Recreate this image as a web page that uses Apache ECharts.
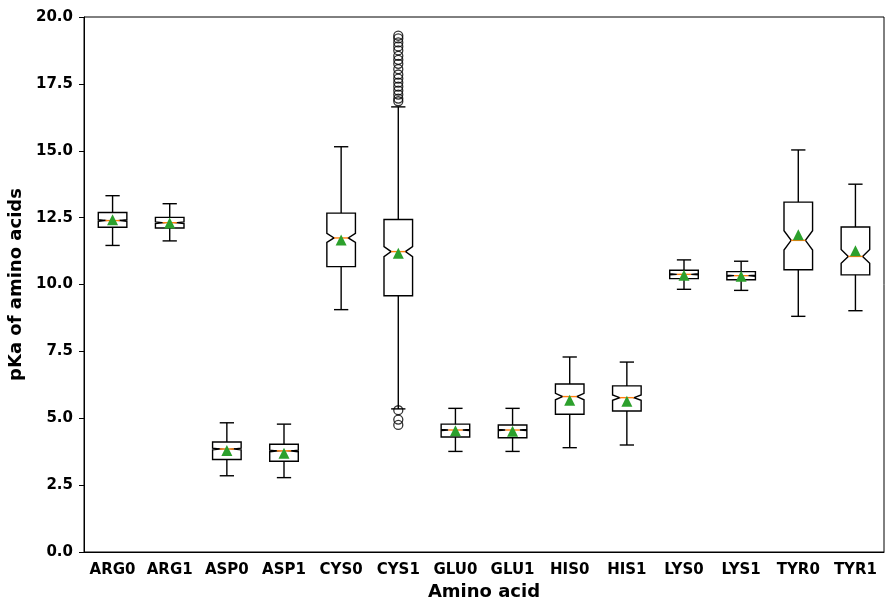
<!DOCTYPE html>
<html>
<head>
<meta charset="utf-8">
<script src="https://cdn.jsdelivr.net/npm/echarts@6/dist/echarts.min.js"></script>
<style>html,body{margin:0;padding:0;background:#fff;}#c{width:885px;height:600px;}</style>
</head>
<body>
<div id="c"></div>
<script>
var categories = ['ARG0','ARG1','ASP0','ASP1','CYS0','CYS1','GLU0','GLU1','HIS0','HIS1','LYS0','LYS1','TYR0','TYR1'];
var whiskerLow  = [11.46, 11.63, 2.85, 2.78, 9.06, 5.35, 3.76, 3.76, 3.90, 4.00, 9.82, 9.78, 8.81, 9.02];
var q1          = [12.14, 12.11, 3.46, 3.39, 10.67, 9.58, 4.30, 4.27, 5.15, 5.27, 10.22, 10.18, 10.55, 10.36];
var median      = [12.39, 12.31, 3.85, 3.78, 11.74, 11.23, 4.56, 4.56, 5.81, 5.77, 10.38, 10.33, 11.65, 11.05];
var q3          = [12.69, 12.51, 4.11, 4.03, 12.67, 12.43, 4.78, 4.75, 6.28, 6.21, 10.53, 10.48, 13.08, 12.15];
var whiskerHigh = [13.32, 13.02, 4.83, 4.78, 15.15, 16.64, 5.37, 5.37, 7.29, 7.10, 10.92, 10.87, 15.03, 13.75];
var notchLow    = [12.36, 12.28, 3.82, 3.75, 11.57, 11.04, 4.54, 4.54, 5.69, 5.67, 10.36, 10.31, 11.29, 10.79];
var notchHigh   = [12.42, 12.34, 3.88, 3.81, 11.91, 11.42, 4.58, 4.58, 5.93, 5.87, 10.40, 10.35, 12.01, 11.31];
var means       = [12.42, 12.30, 3.79, 3.69, 11.66, 11.17, 4.53, 4.51, 5.67, 5.64, 10.35, 10.31, 11.86, 11.26];
var outlierCategory = ['CYS1','CYS1','CYS1','CYS1','CYS1','CYS1','CYS1','CYS1','CYS1','CYS1','CYS1','CYS1','CYS1','CYS1','CYS1','CYS1','CYS1','CYS1','CYS1','CYS1'];
var outlierValues   = [19.3, 19.2, 19.05, 18.9, 18.75, 18.55, 18.4, 18.25, 18.05, 17.85, 17.7, 17.55, 17.4, 17.25, 17.1, 16.95, 16.85, 5.3, 4.95, 4.75];
var yTicks = [0, 2.5, 5, 7.5, 10, 12.5, 15, 17.5, 20];

var boxData = categories.map(function(c, i){
  return [i, whiskerLow[i], q1[i], median[i], q3[i], whiskerHigh[i], notchLow[i], notchHigh[i]];
});
var meanData = categories.map(function(c, i){ return [i, means[i]]; });
var outlierData = outlierValues.map(function(v, i){ return [categories.indexOf(outlierCategory[i]), v]; });

var FONT = 'DejaVu Sans';
var chart = echarts.init(document.getElementById('c'), null, {renderer:'canvas'});
chart.setOption({
  animation: false,
  backgroundColor: '#fff',
  grid: {left: 84, right: 1, top: 17, bottom: 48, show: true, borderColor: '#000', borderWidth: 1,
         containLabel: false, outerBoundsMode: 'none'},
  xAxis: {
    type: 'category', data: categories, boundaryGap: true,
    name: 'Amino acid', nameLocation: 'middle', nameGap: 31,
    nameTextStyle: {fontFamily: FONT, fontWeight: 'bold', fontSize: 18, color: '#000'},
    axisLine: {lineStyle: {color: '#000', width: 1}},
    axisTick: {alignWithLabel: true, length: 5, lineStyle: {color: '#000'}},
    axisLabel: {fontFamily: FONT, fontWeight: 'bold', fontSize: 15, color: '#000', margin: 11, interval: 0},
    splitLine: {show: false}
  },
  yAxis: {
    type: 'value', min: yTicks[0], max: yTicks[yTicks.length - 1], interval: 2.5,
    name: 'pKa of amino acids', nameLocation: 'middle', nameGap: 55, nameRotate: 90,
    nameTextStyle: {fontFamily: FONT, fontWeight: 'bold', fontSize: 18, color: '#000'},
    axisLine: {show: true, lineStyle: {color: '#000', width: 1}},
    axisTick: {show: true, length: 5, lineStyle: {color: '#000'}},
    axisLabel: {fontFamily: FONT, fontWeight: 'bold', fontSize: 15, color: '#000', margin: 11,
      formatter: function(v){ return v.toFixed(1); }},
    splitLine: {show: false}
  },
  series: [
    {
      type: 'custom',
      data: boxData,
      z: 2,
      renderItem: function(params, api){
        var x = api.value(0);
        var lo = api.value(1), b1 = api.value(2), md = api.value(3), b3 = api.value(4), hi = api.value(5), nlo = api.value(6), nhi = api.value(7);
        var bw = api.size([1, 0])[0] * 0.5;
        var cx = api.coord([x, md])[0];
        function Y(v){ return api.coord([x, v])[1]; }
        var L = cx - bw/2, R = cx + bw/2, nL = cx - bw/4, nR = cx + bw/4;
        var cL = cx - bw/4, cR = cx + bw/4;
        var stroke = {stroke: '#000', lineWidth: 1.4, fill: null};
        return {
          type: 'group',
          children: [
            {type: 'polygon', shape: {points: [
              [L, Y(b1)], [R, Y(b1)], [R, Y(nlo)], [nR, Y(md)], [R, Y(nhi)], [R, Y(b3)],
              [L, Y(b3)], [L, Y(nhi)], [nL, Y(md)], [L, Y(nlo)]
            ]}, style: {stroke: '#000', lineWidth: 1.4, fill: '#fff'}},
            {type: 'line', shape: {x1: cx, y1: Y(b1), x2: cx, y2: Y(lo)}, style: stroke},
            {type: 'line', shape: {x1: cx, y1: Y(b3), x2: cx, y2: Y(hi)}, style: stroke},
            {type: 'line', shape: {x1: cL, y1: Y(lo), x2: cR, y2: Y(lo)}, style: stroke},
            {type: 'line', shape: {x1: cL, y1: Y(hi), x2: cR, y2: Y(hi)}, style: stroke},
            {type: 'line', shape: {x1: nL, y1: Y(md), x2: nR, y2: Y(md)}, style: {stroke: '#ff7f0e', lineWidth: 1.4}}
          ]
        };
      }
    },
    {
      type: 'scatter', data: outlierData, z: 3,
      symbol: 'circle', symbolSize: 9,
      itemStyle: {color: 'rgba(0,0,0,0)', borderColor: '#000', borderWidth: 1.3}
    },
    {
      type: 'scatter', data: meanData, z: 4,
      symbol: 'triangle', symbolSize: 11,
      itemStyle: {color: '#2ca02c', opacity: 1}
    }
  ]
});
</script>
</body>
</html>
